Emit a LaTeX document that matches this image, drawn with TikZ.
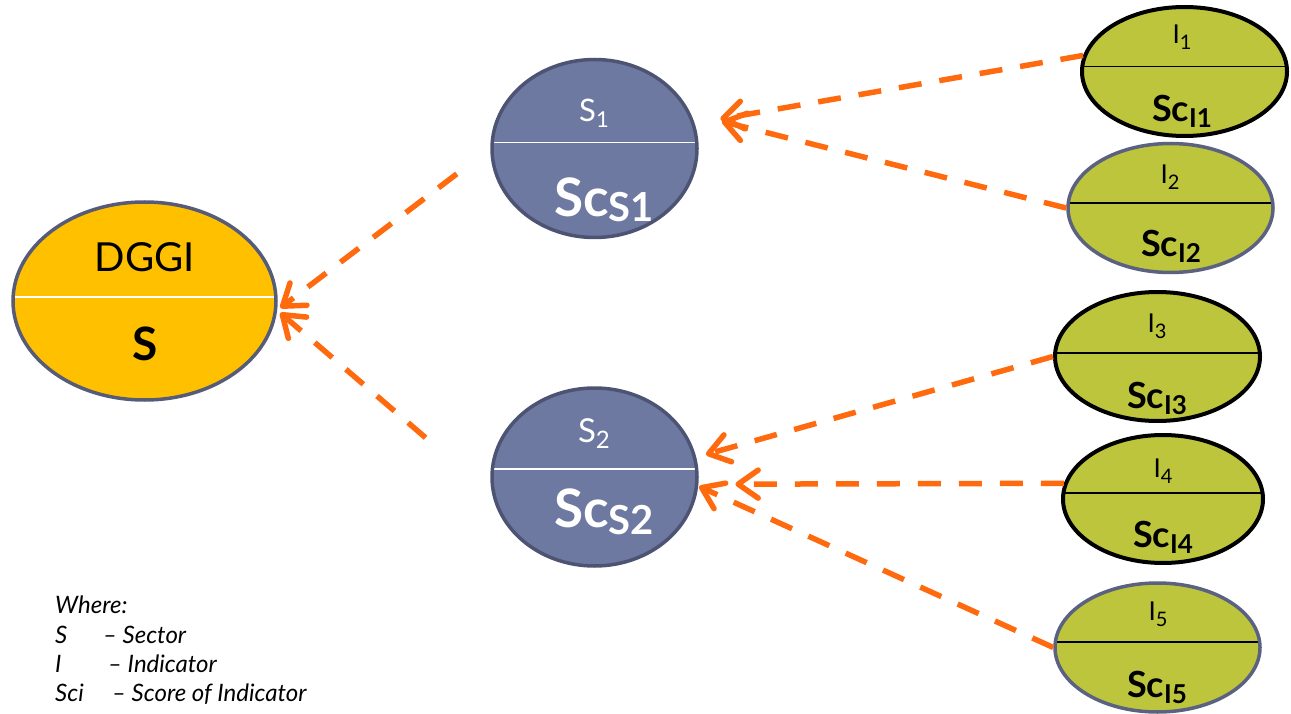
\documentclass[tikz,border=0pt]{standalone}
\usepackage{fontspec}
\setmainfont{Lato}
\usetikzlibrary{shapes.geometric,arrows.meta}

\definecolor{dggigold}{HTML}{FFC000}
\definecolor{dggiedge}{HTML}{565C78}
\definecolor{sectorblue}{HTML}{6E79A1}
\definecolor{sectoredge}{HTML}{4D5473}
\definecolor{indgreen}{HTML}{BCC53B}
\definecolor{indedge}{HTML}{5A6181}
\definecolor{linkorange}{HTML}{FF6A0E}

% lowered index: drop, size, text
\newcommand{\lowidx}[3]{\raisebox{-#1}{\fontsize{#2}{#2}\selectfont #3}}

\tikzset{
  oval/.style={ellipse, line width=3.5pt, inner sep=0pt},
  divider/.style 2 args={path picture={\draw[#1, line width=1.6pt] ([yshift=#2]path picture bounding box.west) -- ([yshift=#2]path picture bounding box.east);}},
  dggi/.style={oval, draw=dggiedge, fill=dggigold, minimum width=263pt, minimum height=198pt, divider={white}{4pt}},
  sector/.style={oval, draw=sectoredge, fill=sectorblue, minimum width=205pt, minimum height=178pt, divider={white}{#1}},
  indicator/.style 2 args={oval, draw=#1, fill=indgreen, minimum width=205pt, minimum height=129pt, divider={black}{#2}},
  lbl/.style={anchor=base, inner sep=0pt},
  link/.style={draw=linkorange, line width=5.5pt, dash pattern=on 23pt off 18pt, -{Straight Barb[length=20pt, width=28pt, round]}}
}

\begin{document}
\begin{tikzpicture}[x=1pt, y=-1pt]
\useasboundingbox (0,0) rectangle (1291,714);

% ovals
\node[dggi] (dggi) at (144.5,301) {};
\node[sector=6pt] (s1) at (594.5,148.5) {};
\node[sector=8pt] (s2) at (594.5,477) {};
\node[indicator={black}{5pt}, line width=4pt] (i1) at (1184.5,71.5) {};
\node[indicator={indedge}{5pt}] (i2) at (1170.5,208) {};
\node[indicator={black}{3.5pt}, line width=4pt] (i3) at (1157.5,356.5) {};
\node[indicator={black}{6pt}, line width=4pt, minimum width=200pt, minimum height=128pt] (i4) at (1163,499) {};
\node[indicator={indedge}{5.5pt}] (i5) at (1157.5,647.5) {};

% texts
\node[lbl, font=\fontsize{40}{40}\selectfont] (dggi top) at (145,272) {DGGI};
\node[lbl, font=\bfseries\fontsize{46}{46}\selectfont] (dggi bot) at (145,360) {S};

\node[lbl, text=white, font=\fontsize{31}{31}\selectfont] (s1 top) at (594,122) {S\lowidx{6pt}{22}{1}};
\node[lbl, text=white, font=\bfseries\fontsize{53}{53}\selectfont] (s1 bot) at (604,217) {Sc\lowidx{5pt}{40}{S1}};
\node[lbl, text=white, font=\fontsize{33}{33}\selectfont] (s2 top) at (594,442) {S\lowidx{6pt}{24}{2}};
\node[lbl, text=white, font=\bfseries\fontsize{53}{53}\selectfont] (s2 bot) at (604,527) {Sc\lowidx{7pt}{40}{S2}};

\node[lbl, font=\fontsize{26}{26}\selectfont] (i1 top) at (1182,44) {I\lowidx{6pt}{20}{1}};
\node[lbl, font=\bfseries\fontsize{36}{36}\selectfont] (i1 bot) at (1182,122) {Sc\lowidx{6pt}{26}{I1}};
\node[lbl, font=\fontsize{26}{26}\selectfont] (i2 top) at (1170,184) {I\lowidx{6pt}{20}{2}};
\node[lbl, font=\bfseries\fontsize{36}{36}\selectfont] (i2 bot) at (1171,257) {Sc\lowidx{6pt}{26}{I2}};
\node[lbl, font=\fontsize{26}{26}\selectfont] (i3 top) at (1157,332) {I\lowidx{6pt}{20}{3}};
\node[lbl, font=\bfseries\fontsize{36}{36}\selectfont] (i3 bot) at (1157,408) {Sc\lowidx{6pt}{26}{I3}};
\node[lbl, font=\fontsize{26}{26}\selectfont] (i4 top) at (1163,477) {I\lowidx{6pt}{20}{4}};
\node[lbl, font=\bfseries\fontsize{36}{36}\selectfont] (i4 bot) at (1163,547) {Sc\lowidx{6pt}{26}{I4}};
\node[lbl, font=\fontsize{26}{26}\selectfont] (i5 top) at (1158,620) {I\lowidx{6pt}{20}{5}};
\node[lbl, font=\bfseries\fontsize{36}{36}\selectfont] (i5 bot) at (1157,697) {Sc\lowidx{6pt}{26}{I5}};

% links
\draw[link, shorten <=42pt, shorten >=4pt] (s1.west) -- (dggi.-4);
\draw[link, shorten <=88pt, shorten >=4pt] (s2.190) -- (dggi.-4);
\draw[link, shorten >=26pt] (i1.171) -- (s1.14);
\draw[link, shorten >=32pt] (i2.west) -- (s1.20);
\draw[link, shorten >=10pt] (i3.west) -- (s2.11);
\draw[link, shorten >=37pt] (i4.171) -- (s2.-4);
\draw[link, shorten >=1pt] (i5.west) -- (s2.-5);

% key
\tikzset{keyline/.style={anchor=base west, inner sep=0pt, font=\itshape\fontsize{24}{24}\selectfont}}
\node[keyline] (where) at (55,613) {Where:};
\node[keyline] (key s) at (55,643) {\makebox[48pt][l]{S}-- Sector};
\node[keyline] (key i) at (55,672) {\makebox[53pt][l]{I}-- Indicator};
\node[keyline] (key sci) at (55,701) {\makebox[57pt][l]{Sci}-- Score of Indicator};
\end{tikzpicture}
\end{document}
